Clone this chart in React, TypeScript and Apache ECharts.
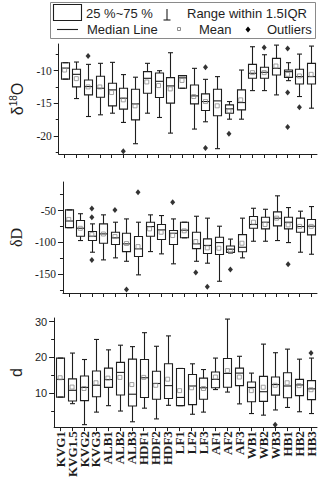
import React, { useEffect, useRef } from "react";
import * as echarts from "echarts";

const categories = ["KVG1","KVG1.5","KVG2","KVG3","ALB1","ALB2","ALB3","HDF1","HDF2","HDF3","LF1","LF2","LF3","AF1","AF2","AF3","WB1","WB2","WB3","HB1","HB2","HB3"];

// [lower whisker, Q1, median, Q3, upper whisker]
const o18Box = [
  [-11.3, -11.3, -9.6, -8.77, -8.77],
  [-14.28, -12.49, -10.56, -9.79, -8.67],
  [-17.04, -13.72, -12.44, -11.42, -9.03],
  [-16.78, -14.08, -12.7, -10.86, -8.87],
  [-16.53, -15.4, -12.95, -11.93, -8.72],
  [-17.95, -15.91, -14.23, -12.7, -10.6],
  [-21.22, -17.55, -15.1, -12.85, -11.0],
  [-16.53, -13.46, -11.17, -10.15, -8.87],
  [-17.19, -14.13, -11.63, -10.35, -10.0],
  [-19.59, -14.99, -12.34, -11.07, -7.24],
  [-12.7, -12.7, -11.1, -10.76, -10.76],
  [-18.97, -15.1, -13.87, -12.19, -9.64],
  [-17.85, -16.12, -14.74, -13.57, -11.33],
  [-21.98, -16.93, -14.64, -12.85, -10.91],
  [-17.45, -16.53, -15.86, -15.26, -14.74],
  [-17.45, -16.02, -14.9, -12.95, -9.9],
  [-13.06, -11.17, -10.4, -9.03, -6.32],
  [-13.06, -11.17, -10.25, -9.48, -7.55],
  [-13.72, -10.66, -9.64, -8.11, -6.07],
  [-11.53, -11.02, -10.15, -9.89, -8.77],
  [-13.97, -12.04, -10.91, -9.79, -7.45],
  [-15.76, -12.04, -10.91, -8.87, -6.22],
];
const o18Mean = [-9.9, -11.22, -12.49, -12.5, -13.36, -14.48, -15.4, -11.73, -12.29, -12.8, -11.5, -13.97, -14.74, -15.4, -16.17, -14.48, -10.3, -10.3, -9.28, -10.56, -10.81, -10.56];
const o18Outliers = [[2, -7.75], [5, -22.39], [12, -9.48], [12, -21.88], [14, -19.69], [17, -6.42], [19, -6.58], [19, -13.36], [19, -18.67], [20, -15.6]];

const dBox = [
  [-77, -77, -66.5, -49, -49],
  [-97.3, -90.5, -77.9, -65.8, -55],
  [-115.7, -97.3, -90.5, -83, -71],
  [-127.8, -101.5, -86.8, -71, -56.8],
  [-124.6, -103.6, -93, -84.2, -68.4],
  [-130, -114.7, -102.5, -85.8, -63.2],
  [-151.4, -122.5, -110.4, -91, -68.4],
  [-114.7, -90.5, -75.2, -68.4, -56.8],
  [-118.3, -95.7, -80.5, -72, -57.9],
  [-134, -103.6, -85.8, -81.5, -63.2],
  [-93, -93, -81, -68.4, -68.4],
  [-130, -110, -102.5, -84.2, -59],
  [-133, -117.8, -105, -94.7, -62],
  [-161.5, -119.4, -100.5, -92, -74.7],
  [-117, -116, -111, -106, -95],
  [-124.6, -115, -107.9, -87.9, -62],
  [-98.4, -77.9, -72, -59.5, -46.4],
  [-98.4, -78.9, -68.4, -60.5, -48],
  [-97.3, -74.2, -62.1, -52.1, -26.8],
  [-100.5, -78.9, -68.4, -60.5, -45.3],
  [-115.7, -84.2, -75.2, -62, -51],
  [-118.9, -88.4, -74.7, -64.2, -43.7],
];
const dMean = [-64, -78, -87.9, -87, -91, -102, -106.8, -78.9, -84.2, -89.4, -82, -98.9, -108.9, -109.4, -113, -101.5, -68.4, -72, -62, -72.6, -75, -75];
const dOutliers = [[2, -46.8], [2, -60.5], [2, -127.8], [4, -49], [5, -174.6], [6, -21], [9, -36.9], [11, -147.8], [12, -170], [14, -143], [19, -134.7]];

const excessBox = [
  [8.9, 8.9, 13.85, 19.8, 19.8],
  [7.06, 7.8, 10.8, 14.0, 21.2],
  [1.2, 7.9, 11.6, 14.8, 19.4],
  [4.7, 9.0, 12.2, 16.2, 25.0],
  [6.5, 11.6, 13.8, 17.0, 22.1],
  [5.0, 9.5, 15.8, 18.6, 23.4],
  [2.0, 6.4, 9.7, 19.5, 23.0],
  [5.8, 8.8, 14.3, 19.4, 26.9],
  [2.8, 8.3, 12.7, 16.1, 23.1],
  [6.6, 8.5, 12.1, 18.2, 26.0],
  [6.5, 6.5, 8.8, 16.9, 16.9],
  [4.1, 6.8, 12.0, 15.2, 18.2],
  [4.7, 8.3, 11.5, 14.2, 16.6],
  [11.0, 11.5, 13.85, 15.9, 19.8],
  [10.3, 11.65, 15.5, 19.7, 30.7],
  [7.0, 12.1, 15.6, 17.0, 20.3],
  [4.3, 7.6, 11.6, 13.1, 15.6],
  [3.85, 7.7, 10.4, 14.7, 23.7],
  [5.3, 9.45, 12.4, 14.5, 21.3],
  [6.0, 8.7, 12.0, 15.7, 22.3],
  [4.8, 9.3, 12.3, 13.85, 19.5],
  [4.3, 8.2, 11.2, 13.5, 19.8],
];
const excessMean = [14.3, 11.7, 11.3, 12.9, 14.2, 14.4, 12.4, 14.4, 12.2, 13.9, 10.7, 11.5, 11.3, 14.5, 16.3, 14.5, 10.7, 11.65, 12.2, 12.9, 12.1, 10.95];
const excessOutliers = [[18, 1.2], [21, 21.2]];

const o18MajorTicks = [-20, -15, -10];
const o18MinorTicks = [-22.5, -17.5, -12.5, -7.5];
const dMajorTicks = [-150, -100, -50];
const dMinorTicks = [-175, -125, -75, -25];
const excessMajorTicks = [10, 20, 30];
const excessMinorTicks = [5, 15, 25];

const SANS = "Liberation Sans, Arial, sans-serif";
const SERIF = "Liberation Serif, Times New Roman, serif";
const INK = "#1e1e1e";

function renderBox(params: any, api: any) {
  const i = api.value(0);
  const lo = api.coord([i, api.value(1)]);
  const q1 = api.coord([i, api.value(2)]);
  const md = api.coord([i, api.value(3)]);
  const q3 = api.coord([i, api.value(4)]);
  const hi = api.coord([i, api.value(5)]);
  const cx = Math.round(lo[0]) + 0.5;
  const hw = 4;
  const cw = 2.5;
  const style = { stroke: INK, lineWidth: 1.1, fill: "none" };
  return {
    type: "group",
    children: [
      { type: "line", shape: { x1: cx, y1: hi[1], x2: cx, y2: q3[1] }, style },
      { type: "line", shape: { x1: cx, y1: q1[1], x2: cx, y2: lo[1] }, style },
      { type: "line", shape: { x1: cx - cw, y1: hi[1], x2: cx + cw, y2: hi[1] }, style },
      { type: "line", shape: { x1: cx - cw, y1: lo[1], x2: cx + cw, y2: lo[1] }, style },
      { type: "rect", shape: { x: cx - hw, y: q3[1], width: hw * 2, height: q1[1] - q3[1] }, style },
      { type: "line", shape: { x1: cx - hw, y1: md[1], x2: cx + hw, y2: md[1] }, style },
    ],
  };
}

function panelSeries(idx: number, box: number[][], mean: number[], outliers: number[][]) {
  return [
    {
      type: "custom",
      xAxisIndex: idx,
      yAxisIndex: idx * 2,
      renderItem: renderBox,
      encode: { x: 0, y: [1, 2, 3, 4, 5] },
      data: box.map((b, i) => [i, ...b]),
      z: 2,
    },
    {
      type: "scatter",
      xAxisIndex: idx,
      yAxisIndex: idx * 2,
      symbol: "rect",
      symbolSize: 4,
      itemStyle: { color: "rgba(0,0,0,0)", borderColor: "#8c8c8c", borderWidth: 1 },
      data: mean.map((m, i) => [i, m]),
      z: 3,
    },
    {
      type: "scatter",
      xAxisIndex: idx,
      yAxisIndex: idx * 2,
      symbol: "diamond",
      symbolSize: [5, 6],
      itemStyle: { color: "#000" },
      data: outliers,
      z: 4,
    },
  ];
}

const grids = [
  { left: 47, width: 270, top: 44, height: 110 },
  { left: 47, width: 270, top: 182, height: 111 },
  { left: 47, width: 270, top: 318, height: 111 },
];

function yAxes(g: number, min: number, max: number, major: number[], minor: number[], name: string, nameGap: number, nameStyle: any, labelFont: string, labelSize: number) {
  return [
    {
      type: "value",
      gridIndex: g,
      position: "left",
      min,
      max,
      axisLine: { show: true, lineStyle: { color: INK, width: 1 } },
      axisTick: { show: true, length: 5, customValues: major, lineStyle: { color: INK, width: 1 } },
      axisLabel: { customValues: major, margin: 7, fontFamily: labelFont, fontSize: labelSize, color: INK },
      splitLine: { show: false },
      name,
      nameLocation: "middle",
      nameGap,
      nameTextStyle: nameStyle,
    },
    {
      type: "value",
      gridIndex: g,
      position: "left",
      offset: 0,
      min,
      max,
      axisLine: { show: false },
      axisTick: { show: true, length: 3, customValues: minor, lineStyle: { color: INK, width: 1 } },
      axisLabel: { show: false },
      splitLine: { show: false },
    },
  ];
}

function xAxis(g: number, showLabels: boolean) {
  return {
    type: "category",
    gridIndex: g,
    data: categories,
    boundaryGap: true,
    axisLine: { show: true, lineStyle: { color: INK, width: 1 } },
    axisTick: { show: true, alignWithLabel: true, interval: 0, length: 4, lineStyle: { color: INK } },
    axisLabel: showLabels
      ? { show: true, interval: 0, rotate: 90, margin: 4, fontFamily: SERIF, fontWeight: "bold", fontSize: 13, color: INK }
      : { show: false },
    splitLine: { show: false },
  };
}

function legendGraphics() {
  const t = (x: number, y: number, text: string) => ({
    type: "text",
    x,
    y,
    style: { text, fontFamily: SANS, fontSize: 13, fill: INK, verticalAlign: "middle", textAlign: "left" },
  });
  const ln = { stroke: INK, lineWidth: 1.1 };
  return [
    { type: "rect", shape: { x: 50.5, y: 2.5, width: 265, height: 36 }, style: { fill: "none", stroke: "#8a8a8a", lineWidth: 1 } },
    { type: "rect", shape: { x: 53.5, y: 4.5, width: 28, height: 16 }, style: { fill: "none", ...ln } },
    t(86, 13, "25 %~75 %"),
    { type: "line", shape: { x1: 167, y1: 9, x2: 167, y2: 20 }, style: ln },
    { type: "line", shape: { x1: 163.5, y1: 20, x2: 170.5, y2: 20 }, style: ln },
    t(187, 13, "Range within 1.5IQR"),
    { type: "line", shape: { x1: 57, y1: 29.5, x2: 78, y2: 29.5 }, style: ln },
    t(87, 29.5, "Median Line"),
    { type: "rect", shape: { x: 177.5, y: 27.5, width: 3, height: 3 }, style: { fill: "none", stroke: "#8c8c8c", lineWidth: 1 } },
    t(199, 29.5, "Mean"),
    { type: "polygon", shape: { points: [[248, 26.5], [250.5, 29.5], [248, 32.5], [245.5, 29.5]] }, style: { fill: "#000" } },
    t(267, 29.5, "Outliers"),
  ];
}

export default function App() {
  const ref = useRef<HTMLDivElement>(null);
  useEffect(() => {
    if (!ref.current) return;
    const chart = echarts.init(ref.current, null, { renderer: "svg" });
    const option: any = {
      animation: false,
      backgroundColor: "#fff",
      grid: grids,
      xAxis: [xAxis(0, false), xAxis(1, false), xAxis(2, true)],
      yAxis: [
        ...yAxes(0, -22.8, -5.9, o18MajorTicks, o18MinorTicks, "{a|δ}{s|18}{a|O}", 28,
          { rich: { a: { fontFamily: SANS, fontSize: 16, color: INK }, s: { fontFamily: SANS, fontSize: 10, color: INK, padding: [0, 0, 9, 0] } } },
          SERIF, 11.5),
        ...yAxes(1, -180, -5, dMajorTicks, dMinorTicks, "δD", 31,
          { fontFamily: SERIF, fontSize: 16, color: INK }, SERIF, 11.5),
        ...yAxes(2, 0.5, 31, excessMajorTicks, excessMinorTicks, "d", 22,
          { fontFamily: SANS, fontSize: 16, color: INK }, SANS, 11),
      ],
      series: [
        ...panelSeries(0, o18Box, o18Mean, o18Outliers),
        ...panelSeries(1, dBox, dMean, dOutliers),
        ...panelSeries(2, excessBox, excessMean, excessOutliers),
      ],
      graphic: legendGraphics(),
    };
    chart.setOption(option);
    return () => chart.dispose();
  }, []);
  return <div ref={ref} style={{ position: "absolute", left: 0, top: 0, width: 320, height: 480 }} />;
}
